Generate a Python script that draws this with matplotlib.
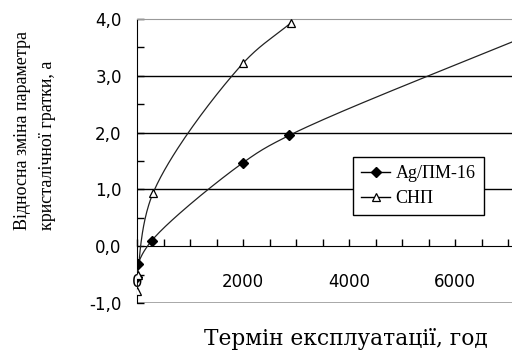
import numpy as np
import matplotlib
matplotlib.use('Agg')
import matplotlib.pyplot as plt
from matplotlib.ticker import MultipleLocator, FuncFormatter

# data
ag_x = [0, 20, 280, 2000, 2870, 8000]
ag_y = [-0.55, -0.32, 0.10, 1.47, 1.95, 3.95]
snp_x = [0, 15, 300, 2000, 2900]
snp_y = [-0.78, -0.50, 0.93, 3.22, 3.93]

x_ticks = [0, 2000, 4000, 6000]
x_max = 7075


def smooth(xs, ys, sx, sy, n=40, alpha=0.5):
    # centripetal catmull-rom in screen-like units (Excel style smoothed line)
    p = np.column_stack([np.asarray(xs) * sx, np.asarray(ys) * sy])
    p = np.vstack([2 * p[0] - p[1], p, 2 * p[-1] - p[-2]])
    out = []
    for i in range(1, len(p) - 2):
        p0, p1, p2, p3 = p[i - 1], p[i], p[i + 1], p[i + 2]
        t0 = 0.0
        t1 = t0 + max(np.linalg.norm(p1 - p0), 1e-6) ** alpha
        t2 = t1 + max(np.linalg.norm(p2 - p1), 1e-6) ** alpha
        t3 = t2 + max(np.linalg.norm(p3 - p2), 1e-6) ** alpha
        t = np.linspace(t1, t2, n)[:, None]
        a1 = (t1 - t) / (t1 - t0) * p0 + (t - t0) / (t1 - t0) * p1
        a2 = (t2 - t) / (t2 - t1) * p1 + (t - t1) / (t2 - t1) * p2
        a3 = (t3 - t) / (t3 - t2) * p2 + (t - t2) / (t3 - t2) * p3
        b1 = (t2 - t) / (t2 - t0) * a1 + (t - t0) / (t2 - t0) * a2
        b2 = (t3 - t) / (t3 - t1) * a2 + (t - t1) / (t3 - t1) * a3
        out.append((t2 - t) / (t2 - t1) * b1 + (t - t1) / (t2 - t1) * b2)
    c = np.vstack(out)
    return c[:, 0] / sx, c[:, 1] / sy


fig = plt.figure(figsize=(5.12, 3.52), dpi=100)
ax = fig.add_axes([137 / 512, 49 / 352, 375 / 512, 284 / 352])

sx = 375 / x_max
sy = 56.8
for xs, ys in [(ag_x, ag_y), (snp_x, snp_y)]:
    cx, cy = smooth(xs, ys, sx, sy)
    ax.plot(cx, cy, color='#222222', lw=0.9, zorder=3)

ax.plot(ag_x, ag_y, ls='none', marker='D', ms=5.5, color='black', zorder=4)
ax.plot(snp_x, snp_y, ls='none', marker='^', ms=6, mfc='white', mec='black', mew=0.9, zorder=4)

# legend proxies
h1, = ax.plot([], [], color='black', lw=1, marker='D', ms=5.5)
h2, = ax.plot([], [], color='black', lw=1, marker='^', ms=6, mfc='white', mew=0.9)
leg = ax.legend([h1, h2], ['Ag/ПМ-16', 'СНП'], loc='upper left',
                bbox_to_anchor=((353 - 137) / 375, (303 - 157) / 284),
                prop={'family': 'Liberation Serif', 'size': 13},
                frameon=True, fancybox=False, edgecolor='black', framealpha=1,
                handlelength=1.6, handletextpad=0.3, borderpad=0.45, labelspacing=0.45,
                borderaxespad=0)
leg.get_frame().set_linewidth(1)
leg.set_zorder(5)

for g in [1, 2, 3]:
    ax.axhline(g, color='black', lw=1, zorder=1)

ax.set_xlim(0, x_max)
ax.set_ylim(-1, 4)

ax.spines['right'].set_visible(False)
ax.spines['top'].set_color('#999999')
ax.spines['bottom'].set_position(('data', 0))
ax.spines['bottom'].set_color('black')
ax.spines['left'].set_color('black')
ax.axhline(-1, color='#999999', lw=1.2, zorder=1)

ax.set_xticks(x_ticks)
ax.xaxis.set_minor_locator(MultipleLocator(500))
ax.yaxis.set_major_locator(MultipleLocator(1))
ax.yaxis.set_minor_locator(MultipleLocator(0.5))
ax.yaxis.set_major_formatter(FuncFormatter(lambda v, p: f'{v:.1f}'.replace('.', ',')))

ax.tick_params(axis='x', which='both', direction='in', length=5, width=1, pad=19, labelsize=12)
ax.tick_params(axis='y', which='both', direction='in', length=5, width=1, pad=11, labelsize=12)

fig.text(23 / 512, (352 - 230) / 352, 'Відносна зміна параметра', rotation=90,
         ha='center', va='bottom', family='Liberation Serif', fontsize=13)
fig.text(48 / 512, (352 - 230) / 352, 'кристалічної гратки, а', rotation=90,
         ha='center', va='bottom', family='Liberation Serif', fontsize=13)
fig.text(346 / 512, (352 - 339) / 352, 'Термін експлуатації, год', ha='center', va='center',
         family='DejaVu Serif', fontsize=15.7)

fig.savefig('out.png', dpi=100)
